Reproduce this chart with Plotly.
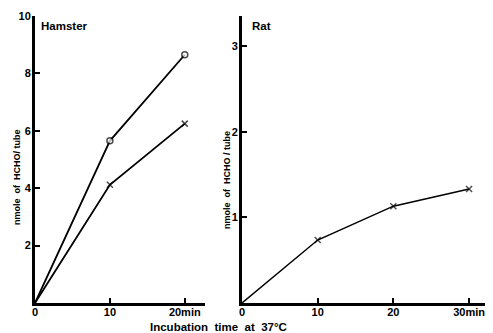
import plotly.graph_objects as go

# page offset of the plot div (default body margin) compensated
OFF = 8
W, H = 493 - OFF, 333 - OFF


def px(p):
    return (p - OFF) / W


def py(p):
    return 1 - (p - OFF) / H


time_hamster = [0, 10, 20]
hamster_circle = [0, 5.65, 8.65]
hamster_cross = [0, 4.12, 6.25]

time_rat = [0, 10, 20, 30]
rat_cross = [0, 0.735, 1.13, 1.33]

ham_xticks = [0, 10, 20]
ham_xticklabels = ["0", "10", "20min"]
ham_yticks = [2, 4, 6, 8, 10]
rat_xticks = [0, 10, 20, 30]
rat_xticklabels = ["0", "10", "20", "30min"]
rat_yticks = [1, 2, 3]

FONT = "Liberation Sans"

fig = go.Figure()
line = dict(color="black", width=1.8)
fig.add_trace(go.Scatter(x=time_hamster, y=hamster_circle, mode="lines+markers",
                         line=line, marker=dict(symbol="circle", size=[0, 6, 6],
                                                color="white", line=dict(color="black", width=1.5)),
                         xaxis="x", yaxis="y", showlegend=False))
fig.add_trace(go.Scatter(x=time_hamster, y=hamster_cross, mode="lines+markers",
                         line=line, marker=dict(symbol="x-thin-open", size=[0, 6, 6],
                                                color="black", line=dict(color="black", width=1.5)),
                         xaxis="x", yaxis="y", showlegend=False))
fig.add_trace(go.Scatter(x=time_rat, y=rat_cross, mode="lines+markers",
                         line=dict(color="black", width=1.5),
                         marker=dict(symbol="x-thin-open", size=[0, 6, 6, 6],
                                     color="black", line=dict(color="black", width=1.5)),
                         xaxis="x2", yaxis="y2", showlegend=False))

tickfont = dict(family=FONT, size=11, color="black")
common = dict(showgrid=False, zeroline=False, showline=True, linecolor="black",
              ticks="inside", ticklen=5, tickwidth=1.5, tickcolor="black",
              tickfont=tickfont, automargin=False)

fig.update_layout(
    width=W, height=H,
    margin=dict(l=0, r=0, t=0, b=0),
    paper_bgcolor="white", plot_bgcolor="white",
    xaxis=dict(domain=[px(35), px(205)], range=[0, 22.7], tickvals=ham_xticks,
               ticktext=[f"<b>{t}</b>" for t in ham_xticklabels], linewidth=2.5,
               anchor="y", ticklabelstandoff=-3, **common),
    yaxis=dict(domain=[py(303), py(16)], range=[0, 10], tickvals=ham_yticks,
               ticktext=[f"<b>{t}</b>" for t in ham_yticks], linewidth=3,
               anchor="x", ticklabelstandoff=-1, **common),
    xaxis2=dict(domain=[px(242), px(488)], range=[0, 32.5], tickvals=rat_xticks,
                ticktext=[f"<b>{t}</b>" for t in rat_xticklabels], linewidth=2.5,
                anchor="y2", ticklabelstandoff=-3, **common),
    yaxis2=dict(domain=[py(303), py(16)], range=[0, 3.35], tickvals=rat_yticks,
                ticktext=[f"<b>{t}</b>" for t in rat_yticks], linewidth=3,
                anchor="x2", ticklabelstandoff=-1, **common),
)

ann_font = dict(family=FONT, color="black")
fig.add_annotation(x=px(39), y=py(26), xref="paper", yref="paper", text="<b>Hamster</b>",
                   showarrow=False, xanchor="left", yanchor="middle", font=dict(size=11.5, **ann_font))
fig.add_annotation(x=px(250), y=py(26), xref="paper", yref="paper", text="<b>Rat</b>",
                   showarrow=False, xanchor="left", yanchor="middle", font=dict(size=11.5, **ann_font))
fig.add_annotation(x=px(218), y=py(327), xref="paper", yref="paper",
                   text="<b>Incubation  time  at  37°C</b>",
                   showarrow=False, xanchor="center", yanchor="middle", font=dict(size=11.5, **ann_font))
fig.add_annotation(x=px(17), y=py(177), xref="paper", yref="paper",
                   text="<b>nmole  of  HCHO/ tube</b>", textangle=-90,
                   showarrow=False, xanchor="center", yanchor="middle", font=dict(size=9, **ann_font))
fig.add_annotation(x=px(227), y=py(180), xref="paper", yref="paper",
                   text="<b>nmole  of  HCHO / tube</b>", textangle=-90,
                   showarrow=False, xanchor="center", yanchor="middle", font=dict(size=9, **ann_font))

fig.write_html("out.html")
